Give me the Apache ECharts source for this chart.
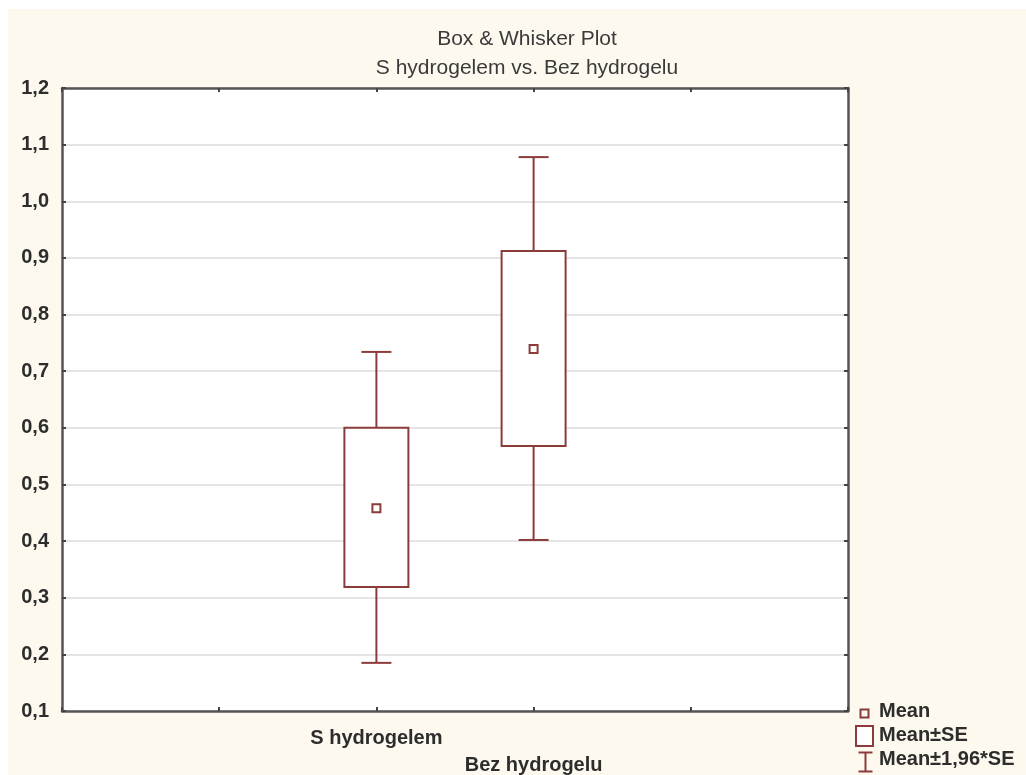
<!DOCTYPE html>
<html>
<head>
<meta charset="utf-8">
<script src="https://cdn.jsdelivr.net/npm/echarts@6/dist/echarts.min.js"></script>
<style>
  html, body { margin: 0; padding: 0; background: #fff; }
  #chart { position: absolute; left: 8px; top: 9px; width: 1018px; height: 766px; }
</style>
</head>
<body>
<div id="chart"></div>
<script>
// groups and their positions on the x scale (0..5)
var categories = ['S hydrogelem', 'Bez hydrogelu'];
var xPos = [2, 3];
// values
var means = [0.458, 0.739];
var seLow = [0.319, 0.568];
var seHigh = [0.600, 0.912];
var ciLow = [0.185, 0.402];
var ciHigh = [0.734, 1.078];

var col = '#8c3b3b';
var txt = '#2d2d2d';
var font = '"Liberation Sans", Arial, sans-serif';

var chart = echarts.init(document.getElementById('chart'));

var data = categories.map(function (c, i) {
  return [xPos[i], means[i], seLow[i], seHigh[i], ciLow[i], ciHigh[i]];
});

function renderBox(params, api) {
  var x = api.value(0);
  var pMean = api.coord([x, api.value(1)]);
  var pSeLo = api.coord([x, api.value(2)]);
  var pSeHi = api.coord([x, api.value(3)]);
  var pCiLo = api.coord([x, api.value(4)]);
  var pCiHi = api.coord([x, api.value(5)]);
  var cx = pMean[0];
  var bw = 32, cw = 15, ms = 4;
  var st = { stroke: col, lineWidth: 2, fill: null };
  return {
    type: 'group',
    children: [
      { type: 'line', shape: { x1: cx, y1: pSeHi[1], x2: cx, y2: pCiHi[1] }, style: st },
      { type: 'line', shape: { x1: cx, y1: pSeLo[1], x2: cx, y2: pCiLo[1] }, style: st },
      { type: 'line', shape: { x1: cx - cw, y1: pCiHi[1], x2: cx + cw, y2: pCiHi[1] }, style: st },
      { type: 'line', shape: { x1: cx - cw, y1: pCiLo[1], x2: cx + cw, y2: pCiLo[1] }, style: st },
      { type: 'rect', shape: { x: cx - bw, y: pSeHi[1], width: bw * 2, height: pSeLo[1] - pSeHi[1] },
        style: { stroke: col, lineWidth: 2, fill: '#fff' } },
      { type: 'rect', shape: { x: cx - ms, y: pMean[1] - ms, width: ms * 2, height: ms * 2 }, style: st }
    ]
  };
}

function frameAxis(extra) {
  var base = {
    axisLine: { show: true, onZero: false, lineStyle: { color: '#555', width: 2.5 } },
    axisTick: { show: true, inside: true, length: 4, lineStyle: { color: '#444', width: 2 } },
    splitLine: { show: false },
    axisLabel: { show: false },
    z: 5
  };
  return Object.assign(base, extra);
}

var option = {
  backgroundColor: '#fdf9ef',
  animation: false,
  title: {
    text: 'Box & Whisker Plot\nS hydrogelem vs. Bez hydrogelu',
    left: 514,
    top: 11,
    textAlign: 'center',
    textStyle: { fontFamily: font, fontSize: 21, fontWeight: 'normal', color: '#3a3a3a', lineHeight: 29 }
  },
  grid: {
    left: 54, top: 79, right: 178, bottom: 64,
    outerBoundsMode: 'none',
    containLabel: false,
    show: true, backgroundColor: '#fff', borderWidth: 0
  },
  xAxis: [frameAxis({
    type: 'value', min: 0, max: 5, interval: 1, position: 'bottom',
    axisLabel: {
      margin: 14, fontFamily: font, fontSize: 20, fontWeight: 'bold', color: txt, lineHeight: 27,
      formatter: function (v) {
        var i = xPos.indexOf(v);
        if (i < 0) return '';
        return i === 0 ? categories[i] : '\n' + categories[i];
      }
    }
  }), frameAxis({
    type: 'value', min: 0, max: 5, interval: 1, position: 'top'
  })],
  yAxis: [frameAxis({
    type: 'value', min: 0.1, max: 1.2, interval: 0.1, position: 'left',
    splitLine: { show: true, lineStyle: { color: '#dcdcdc', width: 1.5 } },
    axisLabel: {
      margin: 13, fontFamily: font, fontSize: 20, fontWeight: 'bold', color: txt,
      formatter: function (v) { return v.toFixed(1).replace('.', ','); }
    }
  }), frameAxis({
    type: 'value', min: 0.1, max: 1.2, interval: 0.1, position: 'right'
  })],
  series: [{
    type: 'custom',
    renderItem: renderBox,
    data: data,
    z: 10
  }],
  graphic: [
    // legend
    { type: 'rect', left: 850, top: 698, shape: { width: 8, height: 8 }, style: { stroke: col, lineWidth: 2, fill: null } },
    { type: 'text', left: 871, top: 692, style: { text: 'Mean', font: 'bold 20px ' + font, fill: txt } },
    { type: 'rect', left: 847, top: 716, shape: { width: 17, height: 20 }, style: { stroke: col, lineWidth: 2, fill: '#fff' } },
    { type: 'text', left: 871, top: 716, style: { text: 'Mean±SE', font: 'bold 20px ' + font, fill: txt } },
    { type: 'group', left: 848, top: 741, children: [
      { type: 'line', shape: { x1: 0, y1: 0, x2: 14, y2: 0 }, style: { stroke: col, lineWidth: 2 } },
      { type: 'line', shape: { x1: 7, y1: 0, x2: 7, y2: 19 }, style: { stroke: col, lineWidth: 2 } },
      { type: 'line', shape: { x1: 0, y1: 19, x2: 14, y2: 19 }, style: { stroke: col, lineWidth: 2 } }
    ] },
    { type: 'text', left: 871, top: 740, style: { text: 'Mean±1,96*SE', font: 'bold 20px ' + font, fill: txt } }
  ]
};

chart.setOption(option);
</script>
</body>
</html>
